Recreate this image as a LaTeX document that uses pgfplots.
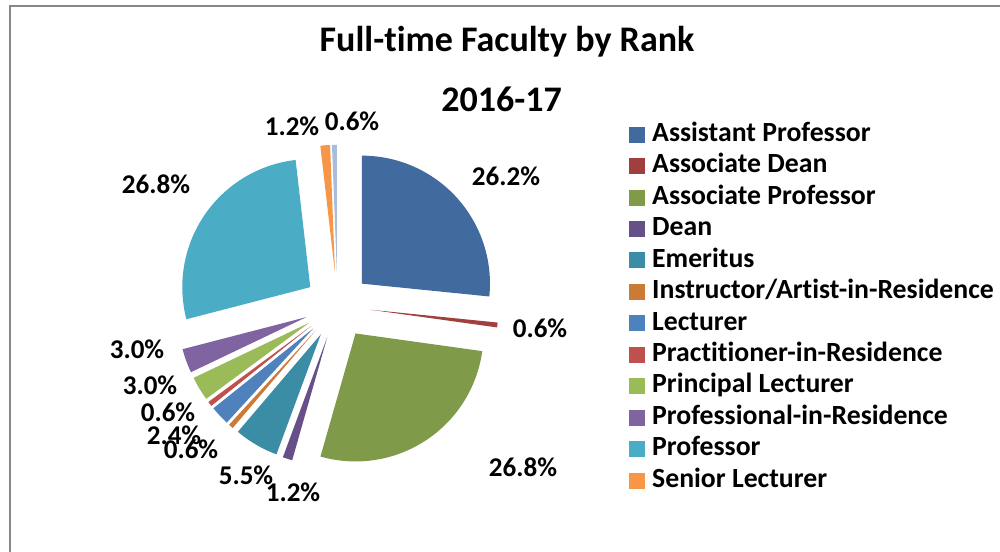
\documentclass[border=0pt]{standalone}
\usepackage{fontspec}
\setmainfont[Ligatures=NoCommon]{Carlito}
\usepackage{pgfplots}
\pgfplotsset{compat=1.18}

\definecolor{cAP}{HTML}{416A9E}
\definecolor{cAD}{HTML}{A03F3D}
\definecolor{cAsP}{HTML}{7F9B4A}
\definecolor{cDean}{HTML}{67508A}
\definecolor{cEm}{HTML}{3B8DA5}
\definecolor{cIn}{HTML}{CB7B37}
\definecolor{cLe}{HTML}{4F81BD}
\definecolor{cPr}{HTML}{C0504D}
\definecolor{cPL}{HTML}{9BBB59}
\definecolor{cPiR}{HTML}{8064A2}
\definecolor{cProf}{HTML}{4BACC6}
\definecolor{cSL}{HTML}{F79646}
\definecolor{cV}{HTML}{A9BCDC}
\definecolor{framecol}{HTML}{888888}

% percentage / colour / label x / label y (label position in pixels, y from top)
\def\piedata{26.2/cAP/506/176, 0.6/cAD/540/328, 26.8/cAsP/523/467, 1.2/cDean/293/492,
 5.5/cEm/246/475, 0.6/cIn/191/449, 2.4/cLe/174/435, 0.6/cPr/168/412,
 3.0/cPL/150/385, 3.0/cPiR/137/349, 26.8/cProf/156/184, 1.2/cSL/292/126, 0.6/cV/352/121}

\def\cx{337.5}\def\cy{246.2}\def\rr{128}\def\dd{33}
\newcommand\labfont{\bfseries\fontsize{20.3}{24}\selectfont}

\begin{document}
\begin{tikzpicture}
\begin{axis}[
  width=750pt, height=414pt, scale only axis,
  xmin=0, xmax=1000, ymin=0, ymax=552,
  hide axis, clip=false,
  legend entries={Assistant Professor,Associate Dean,Associate Professor,Dean,Emeritus,Instructor/Artist-in-Residence,Lecturer,Practitioner-in-Residence,Principal Lecturer,Professional-in-Residence,Professor,Senior Lecturer},
  legend image code/.code={\fill[#1] (0pt,-6pt) rectangle (12pt,6pt);},
  legend cell align=left,
  legend style={at={(axis cs:629,431)}, anchor=north west, draw=none, fill=none,
    font=\bfseries\fontsize{20.8}{24}\selectfont, inner sep=0pt, row sep=3.6pt,
    nodes={inner sep=0pt, text height=15pt, text depth=5pt},
    /tikz/every odd column/.append style={column sep=5.2pt}},
]
\coordinate (bbsw) at (axis cs:0,0);
\coordinate (bbne) at (axis cs:1000,552);
\xdef\total{0}
\foreach \p/\c/\lx/\ly in \piedata {\pgfmathsetmacro\t{\total+\p}\xdef\total{\t}}
\pgfmathsetmacro\k{360/\total}
\xdef\k{\k}
\xdef\cum{0}
\foreach \p/\c/\lx/\ly in \piedata {
  \pgfmathsetmacro\sa{90-\k*\cum}
  \pgfmathsetmacro\sb{90-\k*(\cum+\p)}
  \pgfmathsetmacro\sm{(\sa+\sb)/2}
  \pgfmathsetmacro\ox{\cx+\dd*cos(\sm)}
  \pgfmathsetmacro\oy{\cy+\dd*sin(\sm)}
  \pgfmathsetmacro\lyy{552-\ly}
  \edef\tmp{\noexpand\addplot[fill=\c, draw=none, domain=\sb:\sa, samples=90]
     ({\ox+\rr*cos(x)},{\oy+\rr*sin(x)}) -- (axis cs:\ox,\oy) -- cycle;
     \noexpand\node[font=\noexpand\labfont, inner sep=0pt, anchor=center] at (axis cs:\lx,\lyy) {\p\noexpand\%};}
  \tmp
  \pgfmathsetmacro\t{\cum+\p}\xdef\cum{\t}
}
\node[font=\bfseries\fontsize{27}{32}\selectfont, anchor=base] at (axis cs:507,500) {Full-time Faculty by Rank};
\node[font=\bfseries\fontsize{27}{32}\selectfont, anchor=base] at (axis cs:501.5,440) {2016-17};
\draw[framecol, line width=1.5pt] (axis cs:10,0) -- (axis cs:10,546) -- (axis cs:1000,546);
\end{axis}
\pgfresetboundingbox
\path[use as bounding box] (bbsw) rectangle (bbne);
\end{tikzpicture}
\end{document}
